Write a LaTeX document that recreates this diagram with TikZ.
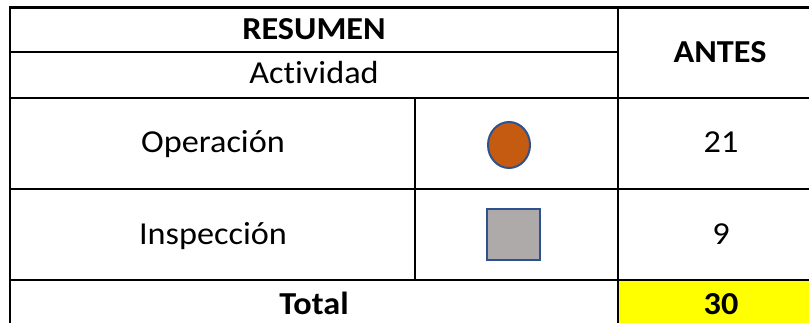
\documentclass[tikz,border=0pt]{standalone}
\usepackage{fontspec}
\setmainfont{Carlito}[Ligatures=NoCommon]
\usetikzlibrary{positioning,shapes.geometric}
\definecolor{opcolor}{HTML}{C55A11}
\definecolor{inspcolor}{HTML}{AEAAAA}
\definecolor{symborder}{HTML}{2F528F}
\definecolor{totalyellow}{HTML}{FFFF00}

\begin{document}
\begin{tikzpicture}[x=1pt,y=-1pt,
grid/.style={
  line width=2.3pt},
cell/.style={
  anchor=base,
  inner sep=0pt,
  xscale=1.07,
  font=\fontsize{32}{38}\selectfont},
boldcell/.style={
  cell,
  font=\fontsize{32}{38}\selectfont\bfseries},
symb/.style={
  draw=symborder,
  line width=2pt,
  inner sep=0pt}
]
\useasboundingbox (0,0) rectangle (809,323);
\clip (0,0) rectangle (809,323);
% total cell
\fill[totalyellow] (618,280) rectangle (830,330);
% table lines
\draw[grid] (10,330) -- (10,7.5) -- (830,7.5);
\draw[grid] (10,52) -- (618,52);
\draw[grid] (10,98) -- (830,98);
\draw[grid] (10,189) -- (830,189);
\draw[grid] (10,280) -- (830,280);
\draw[grid] (618,7.5) -- (618,330);
\draw[grid] (415,98) -- (415,280);
% headers
\node[boldcell] (resumen) at (314,40) {RESUMEN};
\node[cell] (actividad) at (314,84) {Actividad};
\node[boldcell] (antes) at (720,63) {ANTES};
% rows
\node[cell] (operacion) at (213,153) {Operación};
\node[ellipse, symb, fill=opcolor, minimum width=42, minimum height=46] (opsym) at (509,145) {};
\node[cell] (opnum) at (721,153) {21};
\node[cell] (inspeccion) at (213,245) {Inspección};
\node[rectangle, symb, fill=inspcolor, minimum width=53, minimum height=51] (inspsym) at (513,235) {};
\node[cell] (inspnum) at (721,245) {9};
% total
\node[boldcell] (total) at (314,315) {Total};
\node[boldcell] (totalnum) at (721,315) {30};
\end{tikzpicture}
\end{document}
